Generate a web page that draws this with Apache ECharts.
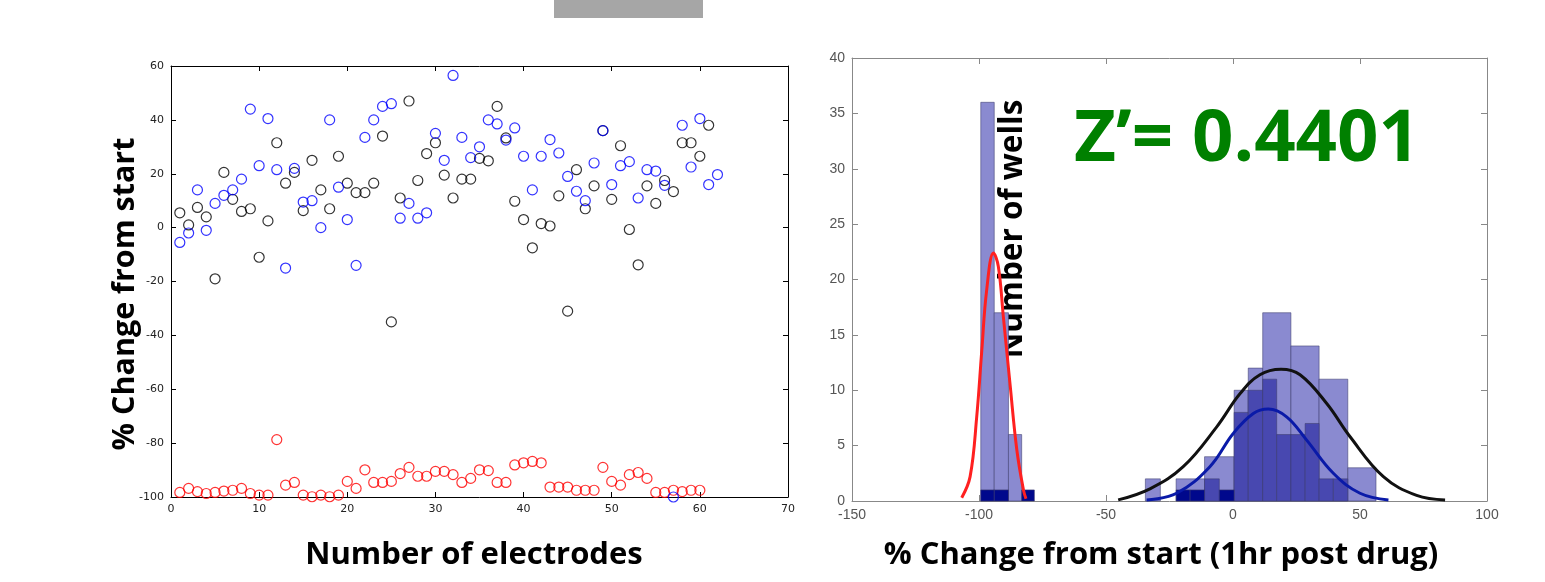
<!DOCTYPE html>
<html>
<head>
<meta charset="utf-8">
<script src="https://cdn.jsdelivr.net/npm/echarts@6/dist/echarts.min.js"></script>
<style>
html, body { margin: 0; padding: 0; background: #fff; }
#chart { width: 1545px; height: 582px; }
</style>
</head>
<body>
<div id="chart"></div>
<script>
var myChart = echarts.init(document.getElementById('chart'));

// left plot: % change per electrode (x = electrode number 1..n)
var blackVals = [5.5, 1, 7.5, 4, -19, 20.5, 10.5, 6, 7, -11, 2.5, 31.5, 16.5, 20.5, 6.3, 25, 14, 7, 26.5, 16.5,
    13, 13, 16.5, 34, -35, 11, 47, 17.5, 27.5, 31.5, 19.5, 11, 18, 18, 25.7, 24.8, 45, 33.3, 9.8, 3,
    -7.5, 1.5, 0.6, 11.8, -31, 21.5, 7, 15.5, 36, 10.5, 30.4, -0.7, -13.8, 15.5, 9, 17.5, 13.4, 31.5, 31.5, 26.5,
    38];
var blueVals = [-5.5, -2, 14, -1, 9, 12, 14, 18, 44, 23, 40.5, 21.5, -15, 22, 9.5, 10, 0, 40, 15, 3,
    -14, 33.5, 40, 45, 46, 3.5, 9, 3.5, 5.5, 35, 25, 56.5, 33.5, 26, 30, 40, 38.5, 32.5, 37, 26.5,
    14, 26.5, 32.7, 27.7, 19, 13.5, 10, 24, 36, 16, 23, 24.5, 11, 21.5, 21, 15.7, -100, 38, 22.5, 40.5,
    16, 19.7];
var redVals = [-98.3, -96.8, -98.0, -98.7, -98.3, -97.8, -97.5, -96.8, -98.7, -99.3,
    -99.3, -78.7, -95.6, -94.6, -99.3, -99.9, -99.3, -99.9, -99.3, -94.2,
    -96.8, -89.9, -94.6, -94.6, -94.2, -91.3, -89.0, -92.3, -92.3, -90.5,
    -90.5, -91.7, -94.6, -93.1, -89.9, -90.2, -94.6, -94.6, -88.1, -87.3,
    -86.8, -87.3, -96.3, -96.3, -96.3, -97.5, -97.5, -97.5, -89.0, -94.2,
    -95.6, -91.7, -90.9, -93.1, -98.3, -98.3, -97.5, -98.0, -97.5, -97.5];

// right plot: histogram bins [from, to, count]
var lightBins = [[-99.3, -94.0, 36], [-94.0, -88.4, 17], [-88.4, -83.2, 6],
    [-34.5, -28.6, 2], [-22.4, -11.2, 2], [-11.2, 0.45, 4], [0.45, 6.0, 10], [6.0, 11.7, 12],
    [11.7, 22.8, 17], [22.8, 33.9, 14], [33.9, 45.2, 11], [45.2, 56.3, 3]];
var mediumBins = [[-11.2, -5.4, 2], [0.45, 6.0, 8], [6.0, 11.7, 10], [11.7, 17.2, 11], [17.2, 22.8, 6],
    [22.8, 28.4, 6], [28.4, 33.9, 7], [33.9, 39.5, 2], [39.5, 45.2, 2]];
var navyBins = [[-99.3, -94.0, 1], [-94.0, -88.4, 1], [-83.2, -78.2, 1],
    [-22.4, -16.9, 1], [-16.9, -11.2, 1], [-5.4, 0.45, 1]];

// fitted curves
var redCurve = [[-106.8, 0.3], [-103.5, 2.2], [-100.9, 7.6], [-98.9, 13.6], [-97.0, 19.0], [-94.3, 22.4],
    [-92.4, 21.2], [-90.4, 16.6], [-87.8, 10.6], [-85.1, 4.6], [-82.5, 1.0], [-81.5, 0.2]];
var blackCurve = [[-45.2, 0.1], [-32.7, 1.1], [-19.6, 3.1], [-6.4, 6.7], [2.8, 9.7], [10.6, 11.4], [18.9, 11.9],
    [26.4, 11.4], [36.9, 8.8], [46.1, 5.8], [59.2, 2.2], [72.3, 0.5], [83.5, 0.1]];
var blueCurve = [[-34.0, 0.1], [-22.2, 0.7], [-9.1, 3.1], [0.1, 6.1], [8.0, 7.9], [13.9, 8.3], [21.1, 7.6],
    [29.0, 5.5], [39.5, 2.5], [50.0, 0.7], [61.2, 0.1]];

function toPoints(vals) {
    return vals.map(function (v, i) { return [i + 1, v]; });
}

function barRender(color) {
    return function (params, api) {
        var p0 = api.coord([api.value(0), api.value(2)]);
        var p1 = api.coord([api.value(1), 0]);
        return {
            type: 'rect',
            shape: { x: p0[0], y: p0[1], width: p1[0] - p0[0], height: p1[1] - p0[1] },
            style: { fill: color, stroke: 'rgba(60,60,110,0.55)', lineWidth: 1 }
        };
    };
}

function scatter(name, vals, color) {
    return {
        name: name,
        type: 'scatter',
        xAxisIndex: 0,
        yAxisIndex: 0,
        symbol: 'circle',
        symbolSize: 10,
        data: toPoints(vals),
        itemStyle: { color: 'rgba(0,0,0,0)', borderColor: color, borderWidth: 1.2 }
    };
}

function histBars(name, bins, color) {
    return {
        name: name,
        type: 'custom',
        xAxisIndex: 2,
        yAxisIndex: 2,
        renderItem: barRender(color),
        encode: { x: [0, 1], y: 2 },
        data: bins
    };
}

function curve(name, pts, color) {
    return {
        name: name,
        type: 'line',
        xAxisIndex: 2,
        yAxisIndex: 2,
        smooth: 0.4,
        symbol: 'none',
        data: pts,
        lineStyle: { color: color, width: 3 }
    };
}

var leftLabel = { fontSize: 11, color: '#222', fontFamily: 'DejaVu Sans' };
var rightLabel = { fontSize: 14, color: '#555', fontFamily: 'Liberation Sans' };

function axis(grid, pos, min, max, step, line, label, tickLen) {
    return {
        type: 'value',
        gridIndex: grid,
        position: pos,
        min: min,
        max: max,
        interval: step,
        axisLine: { show: true, onZero: false, lineStyle: { color: line, width: 1 } },
        axisTick: { show: true, inside: true, length: tickLen, lineStyle: { color: line } },
        axisLabel: label ? Object.assign({ show: true, margin: 7 }, label) : { show: false },
        splitLine: { show: false }
    };
}

var titleFont = { fontFamily: 'Open Sans', fontWeight: 'bold', fill: '#000' };

var option = {
    animation: false,
    backgroundColor: '#fff',
    grid: [
        { left: 171, top: 66, width: 617, height: 431 },
        { left: 852, top: 58, width: 635, height: 443 }
    ],
    xAxis: [
        axis(0, 'bottom', 0, 70, 10, '#000', leftLabel, 5),
        axis(0, 'top', 0, 70, 10, '#000', null, 5),
        axis(1, 'bottom', -150, 100, 50, '#888', rightLabel, 6),
        axis(1, 'top', -150, 100, 50, '#888', null, 6)
    ],
    yAxis: [
        axis(0, 'left', -100, 60, 20, '#000', leftLabel, 5),
        axis(0, 'right', -100, 60, 20, '#000', null, 5),
        axis(1, 'left', 0, 40, 5, '#888', rightLabel, 6),
        axis(1, 'right', 0, 40, 5, '#888', null, 6)
    ],
    series: [
        scatter('red', redVals, '#ff0000'),
        scatter('black', blackVals, '#000000'),
        scatter('blue', blueVals, '#0000ff'),
        histBars('all', lightBins, '#8a8ad0'),
        histBars('group', mediumBins, '#4848b0'),
        histBars('low', navyBins, '#00088c'),
        curve('black fit', blackCurve, '#111111'),
        curve('blue fit', blueCurve, '#0a1aa8'),
        curve('red fit', redCurve, '#ff2020')
    ],
    graphic: [
        { type: 'rect', shape: { x: 554, y: 0, width: 149, height: 18 }, style: { fill: '#a6a6a6' } },
        { type: 'text', x: 125, y: 294, rotation: Math.PI / 2,
          style: Object.assign({ text: '% Change from start', fontSize: 30.5, textAlign: 'center', textVerticalAlign: 'middle' }, titleFont) },
        { type: 'text', x: 474, y: 555,
          style: Object.assign({ text: 'Number of electrodes', fontSize: 31, textAlign: 'center', textVerticalAlign: 'middle' }, titleFont) },
        { type: 'text', x: 1161, y: 555,
          style: Object.assign({ text: '% Change from start (1hr post drug)', fontSize: 31, textAlign: 'center', textVerticalAlign: 'middle' }, titleFont) },
        { type: 'text', x: 1013, y: 229, rotation: Math.PI / 2,
          style: Object.assign({ text: 'Number of wells', fontSize: 31.5, textAlign: 'center', textVerticalAlign: 'middle' }, titleFont) },
        { type: 'text', x: 1247, y: 140,
          style: { text: 'Z\u2019= 0.4401', fontSize: 72.5, fontWeight: 'bold', fontFamily: 'Open Sans', fill: '#008000', textAlign: 'center', textVerticalAlign: 'middle' } }
    ]
};

myChart.setOption(option);
</script>
</body>
</html>
